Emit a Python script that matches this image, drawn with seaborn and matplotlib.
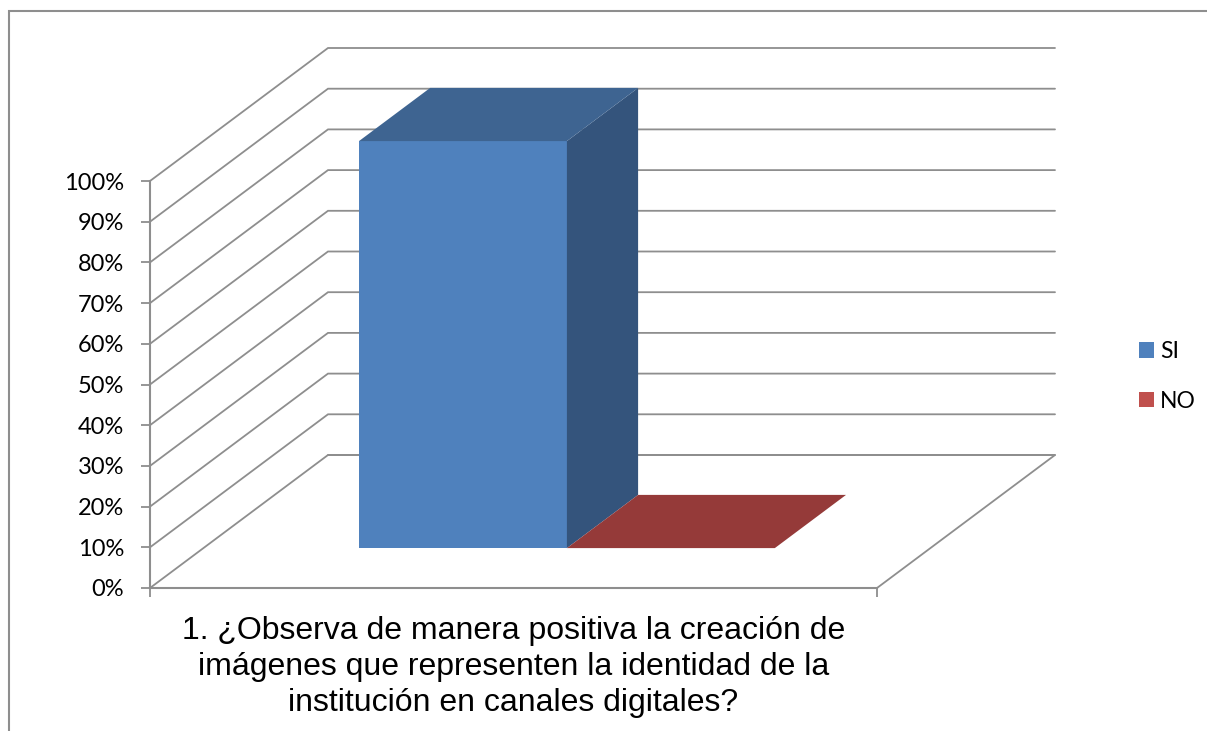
import matplotlib
matplotlib.use("Agg")
import matplotlib.pyplot as plt
import seaborn as sns
import pandas as pd
from matplotlib.patches import Polygon, Rectangle
from matplotlib.transforms import Affine2D

series = ["SI", "NO"]
values = [100, 0]
category = ["1. ¿Observa de manera positiva la creación de\nimágenes que representen la identidad de la\ninstitución en canales digitales?"]
y_ticks = [0, 10, 20, 30, 40, 50, 60, 70, 80, 90, 100]

front_colors = ["#4F81BD", "#C0504D"]
side_colors = ["#34547C", "#7F3332"]
top_colors = ["#3E6491", "#953A39"]
grid_color = "#8E8E8E"

W, H = 1207, 731
sns.set_theme(style="white")
plt.rcParams["font.family"] = ["Lato", "DejaVu Sans"]

fig = plt.figure(figsize=(W / 100, H / 100), dpi=100, facecolor="white")
ax = fig.add_axes([150 / W, (H - 588) / H, 727 / W, 407 / H])

df = pd.DataFrame({"cat": category * len(series), "serie": series, "val": values})
sns.barplot(data=df, x="cat", y="val", hue="serie", hue_order=series,
            palette=front_colors, saturation=1, width=0.572, gap=0, ax=ax,
            linewidth=0, zorder=3)

ax.set_xlim(-0.5, 0.5)
ax.set_ylim(0, 100)

# oblique depth vector for a full-depth step, in data units
DX = 178 / 727
DY = 133 / 407 * 100
D0, D1 = 0.3, 0.7

# back wall, side wall and floor grid
for t in y_ticks:
    ax.plot([-0.5, -0.5 + DX, 0.5 + DX], [t, t + DY, t + DY], color=grid_color,
            lw=1.3, clip_on=False, zorder=1, solid_joinstyle="miter")
ax.plot([0.5, 0.5 + DX, -0.5 + DX], [0, DY, DY], color=grid_color, lw=1.3,
        clip_on=False, zorder=1)

# extrude the bars seaborn drew
for i, cont in enumerate(ax.containers):
    bar = cont[0]
    x0, w, h = bar.get_x(), bar.get_width(), bar.get_height()
    x1 = x0 + w
    bar.set_transform(Affine2D().translate(D0 * DX, D0 * DY) + ax.transData)
    bar.set_clip_on(False)
    p = lambda x, y, d: (x + d * DX, y + d * DY)
    if h > 0:
        ax.add_patch(Polygon([p(x1, 0, D0), p(x1, 0, D1), p(x1, h, D1), p(x1, h, D0)],
                             fc=side_colors[i], ec="none", clip_on=False, zorder=3))
    ax.add_patch(Polygon([p(x0, h, D0), p(x1, h, D0), p(x1, h, D1), p(x0, h, D1)],
                         fc=top_colors[i], ec="none", clip_on=False, zorder=3 + (0.5 if h == 0 else 0)))

sns.despine(ax=ax)
for s in ["left", "bottom"]:
    ax.spines[s].set_color(grid_color)
    ax.spines[s].set_linewidth(1.5)
    ax.spines[s].set_zorder(2)
ax.patch.set_alpha(0)

ax.set_yticks(y_ticks)
ax.set_yticklabels([f"{t}%" for t in y_ticks], fontsize=17, color="#000000")
ax.tick_params(axis="y", left=True, length=6.5, width=1.3, color=grid_color, pad=12)
ax.set_xticks([0])
ax.set_xticklabels(category, fontsize=23, family="Liberation Sans",
                   linespacing=1.25, color="#000000")
ax.tick_params(axis="x", bottom=False, pad=14.5)
ax.set_xticks([-0.5, 0.5], minor=True)
ax.tick_params(axis="x", which="minor", bottom=True, length=6.5, width=1.3, color=grid_color)
ax.set_xlabel("")
ax.set_ylabel("")

handles, labels = ax.get_legend_handles_labels()
ax.legend(handles, labels, loc="center left", bbox_to_anchor=(1139 / W, (H - 376.5) / H),
          bbox_transform=fig.transFigure, frameon=False, fontsize=16.5, title=None,
          handlelength=0.65, handleheight=0.65, handletextpad=0.27, labelspacing=1.25,
          borderpad=0, borderaxespad=0, labelcolor="#000000")

fig.add_artist(Rectangle((8.5 / W, -0.05), 1.2, (H - 10.5) / H + 0.05,
                         transform=fig.transFigure, fc="none", ec=grid_color, lw=1.5))

fig.savefig("out.png", dpi=100)
